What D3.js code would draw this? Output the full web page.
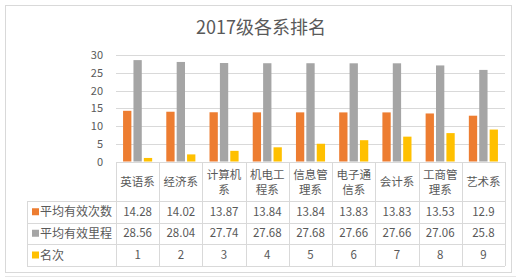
<!DOCTYPE html>
<html>
<head>
<meta charset="UTF-8">
<title>2017级各系排名</title>
<script src="https://cdn.jsdelivr.net/npm/d3@7"></script>
<style>
body { margin: 0; background: #fff; }
text { font-family: "Noto Sans CJK SC", "Microsoft YaHei", sans-serif; fill: #595959; }
</style>
</head>
<body>
<script>
// data
var categories = ["英语系", "经济系", "计算机系", "机电工程系", "信息管理系", "电子通信系", "会计系", "工商管理系", "艺术系"];
var catLines = [["英语系"], ["经济系"], ["计算机", "系"], ["机电工", "程系"], ["信息管", "理系"], ["电子通", "信系"], ["会计系"], ["工商管", "理系"], ["艺术系"]];
var seriesNames = ["平均有效次数", "平均有效里程", "名次"];
var times = [14.28, 14.02, 13.87, 13.84, 13.84, 13.83, 13.83, 13.53, 12.9];
var mileage = [28.56, 28.04, 27.74, 27.68, 27.68, 27.66, 27.66, 27.06, 25.8];
var rank = [1, 2, 3, 4, 5, 6, 7, 8, 9];
var yTicks = [0, 5, 10, 15, 20, 25, 30];
var colors = ["#ED7D31", "#A5A5A5", "#FFC000"];
var series = [times, mileage, rank];

var W = 526, H = 278;
var svg = d3.select("body").append("svg").attr("width", W).attr("height", H);

// outer frame
svg.append("rect").attr("x", 5.5).attr("y", 5.5).attr("width", 506).attr("height", 267)
  .attr("fill", "#fff").attr("stroke", "#d9d9d9");
svg.append("line").attr("x1", 5).attr("x2", 516).attr("y1", 276.5).attr("y2", 276.5)
  .attr("stroke", "#e6e6e6");

// title
svg.append("text").attr("x", 261).attr("y", 34).attr("text-anchor", "middle")
  .style("font-size", "18px").text("2017级各系排名");

var plot = {left: 116, right: 505, top: 55, bottom: 161.5};

var x = d3.scaleBand().domain(categories).range([plot.left, plot.right]);
var xi = d3.scaleBand().domain(d3.range(3)).range([0, x.bandwidth()])
  .paddingInner(0.2).paddingOuter(0.68);
var y = d3.scaleLinear().domain([0, 30]).range([plot.bottom, plot.top]);

// grid
svg.append("g").selectAll("line").data(yTicks).enter().append("line")
  .attr("x1", plot.left).attr("x2", plot.right)
  .attr("y1", function(d) { return Math.round(y(d)) + 0.5; })
  .attr("y2", function(d) { return Math.round(y(d)) + 0.5; })
  .attr("stroke", "#d9d9d9");

// y axis labels
svg.append("g").selectAll("text").data(yTicks).enter().append("text")
  .attr("x", 103).attr("y", function(d) { return y(d) + 4; })
  .attr("text-anchor", "end").style("font-size", "11px").text(function(d) { return d; });

// bars
series.forEach(function(vals, s) {
  svg.append("g").selectAll("rect").data(vals).enter().append("rect")
    .attr("x", function(d, i) { return x(categories[i]) + xi(s); })
    .attr("width", xi.bandwidth())
    .attr("y", function(d) { return y(d); })
    .attr("height", function(d) { return y(0) - y(d); })
    .attr("fill", colors[s]);
});

// data table
var rowY = [162, 201, 222.5, 244, 266];
var tableLeft = 27;
var grid = svg.append("g").attr("stroke", "#d9d9d9").attr("fill", "none");
// horizontal lines
grid.append("line").attr("x1", plot.left).attr("x2", plot.right).attr("y1", rowY[0] + 0.5).attr("y2", rowY[0] + 0.5);
rowY.slice(1).forEach(function(yy) {
  grid.append("line").attr("x1", tableLeft).attr("x2", plot.right)
    .attr("y1", Math.round(yy) + 0.5).attr("y2", Math.round(yy) + 0.5);
});
// vertical lines
categories.forEach(function(c) {
  grid.append("line").attr("x1", Math.round(x(c)) + 0.5).attr("x2", Math.round(x(c)) + 0.5)
    .attr("y1", rowY[0]).attr("y2", rowY[4]);
});
grid.append("line").attr("x1", plot.right + 0.5).attr("x2", plot.right + 0.5).attr("y1", rowY[0]).attr("y2", rowY[4]);
grid.append("line").attr("x1", tableLeft + 0.5).attr("x2", tableLeft + 0.5).attr("y1", rowY[1]).attr("y2", rowY[4]);

// header (each line its own text)
catLines.forEach(function(lines, i) {
  var cx = x(categories[i]) + x.bandwidth() / 2;
  var cy = (rowY[0] + rowY[1]) / 2;
  lines.forEach(function(l, k) {
    svg.append("text").attr("text-anchor", "middle").style("font-size", "11.5px")
      .attr("x", cx)
      .attr("y", cy + 4.5 + (k - (lines.length - 1) / 2) * 15)
      .text(l);
  });
});

// rows
seriesNames.forEach(function(name, s) {
  var cy = (rowY[s + 1] + rowY[s + 2]) / 2;
  svg.append("rect").attr("x", 32).attr("y", cy - 3.5).attr("width", 7).attr("height", 7).attr("fill", colors[s]);
  svg.append("text").attr("x", 40).attr("y", cy + 4.5).style("font-size", "12px").text(name);
  svg.append("g").selectAll("text").data(series[s]).enter().append("text")
    .attr("x", function(d, i) { return x(categories[i]) + x.bandwidth() / 2; })
    .attr("y", cy + 4).attr("text-anchor", "middle").style("font-size", "11.5px")
    .text(function(d) { return d; });
});
</script>
</body>
</html>
